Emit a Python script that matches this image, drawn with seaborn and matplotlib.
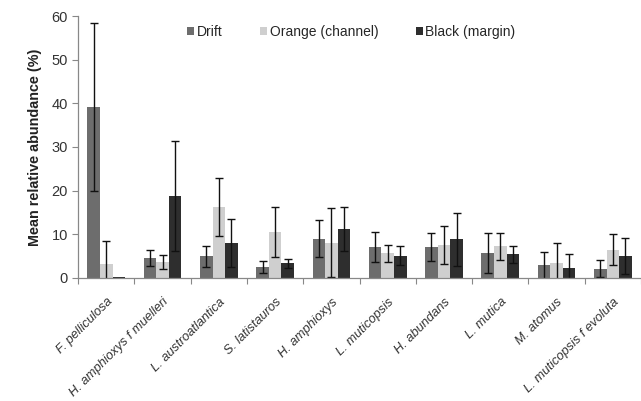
import numpy as np
import pandas as pd
import seaborn as sns
import matplotlib.pyplot as plt

# ======================
# DATA
# ======================
species = ["F. pelliculosa", "H. amphioxys f muelleri", "L. austroatlantica",
           "S. latistauros", "H. amphioxys", "L. muticopsis", "H. abundans",
           "L. mutica", "M. atomus", "L. muticopsis f evoluta"]
groups = ["Drift", "Orange (channel)", "Black (margin)"]

drift = [39.1, 4.6, 5.0, 2.5, 9.0, 7.1, 7.1, 5.8, 2.9, 2.1]
orange = [3.1, 3.6, 16.2, 10.5, 8.1, 5.6, 7.5, 7.3, 3.3, 6.5]
black = [0.2, 18.7, 8.0, 3.3, 11.2, 5.1, 8.8, 5.4, 2.3, 5.0]

drift_err = [19.3, 1.9, 2.4, 1.4, 4.2, 3.4, 3.3, 4.6, 3.1, 2.0]
orange_err = [5.4, 1.6, 6.7, 5.7, 7.9, 1.9, 4.4, 3.1, 4.6, 3.5]
black_err = [0.0, 12.6, 5.4, 1.1, 5.0, 2.2, 6.1, 1.9, 3.1, 4.2]

colors = ["#6d6d6d", "#cfcfcf", "#2e2e2e"]

df = pd.DataFrame({
    "species": species * 3,
    "group": np.repeat(groups, len(species)),
    "value": drift + orange + black,
})

# ======================
# PLOT
# ======================
sns.set_style("white")
plt.rcParams["font.family"] = ["Liberation Sans", "DejaVu Sans"]

fig = plt.figure(figsize=(6.41, 4.01), dpi=100)
ax = fig.add_axes([0.122, 0.307, 0.878, 0.653])

sns.barplot(data=df, x="species", y="value", hue="group", palette=colors,
            width=0.67, errorbar=None, ax=ax, saturation=1, linewidth=0)

for cont, errs in zip(ax.containers, [drift_err, orange_err, black_err]):
    for bar, e in zip(cont, errs):
        if e <= 0:
            continue
        x = bar.get_x() + bar.get_width() / 2
        ax.errorbar(x, bar.get_height(), yerr=e, fmt="none", ecolor="#111111",
                    elinewidth=1, capsize=3, capthick=1)

ax.set_ylim(0, 60)
ax.set_xlim(-0.5, len(species) - 0.5)
ax.set_yticks(range(0, 61, 10))
ax.set_xlabel("")
ax.set_ylabel("Mean relative abundance (%)", fontsize=10.4, fontweight="bold",
              color="#222222", labelpad=7)

ax.set_xticks(range(len(species)))
ax.set_xticklabels(species, rotation=45, ha="right", rotation_mode="anchor",
                   fontstyle="italic", fontsize=9.3, color="#333333")
ax.set_xticks(np.arange(-0.5, len(species), 1.0), minor=True)
ax.tick_params(axis="x", which="major", length=0, pad=13)
ax.tick_params(axis="x", which="minor", length=4, width=0.8, color="#888888",
               direction="out", bottom=True)
ax.tick_params(axis="y", length=4, width=0.8, color="#888888", direction="out",
               left=True, labelsize=10.5, labelcolor="#333333")

sns.despine(ax=ax)
for s in ["left", "bottom"]:
    ax.spines[s].set_color("#888888")
    ax.spines[s].set_linewidth(0.9)

sns.move_legend(ax, "upper center", bbox_to_anchor=(0.485, 1.015), ncol=3,
                frameon=False, title=None, fontsize=10, handlelength=0.55,
                handleheight=0.55, handletextpad=0.15, columnspacing=2.7)

fig.savefig("out.png", dpi=100)
